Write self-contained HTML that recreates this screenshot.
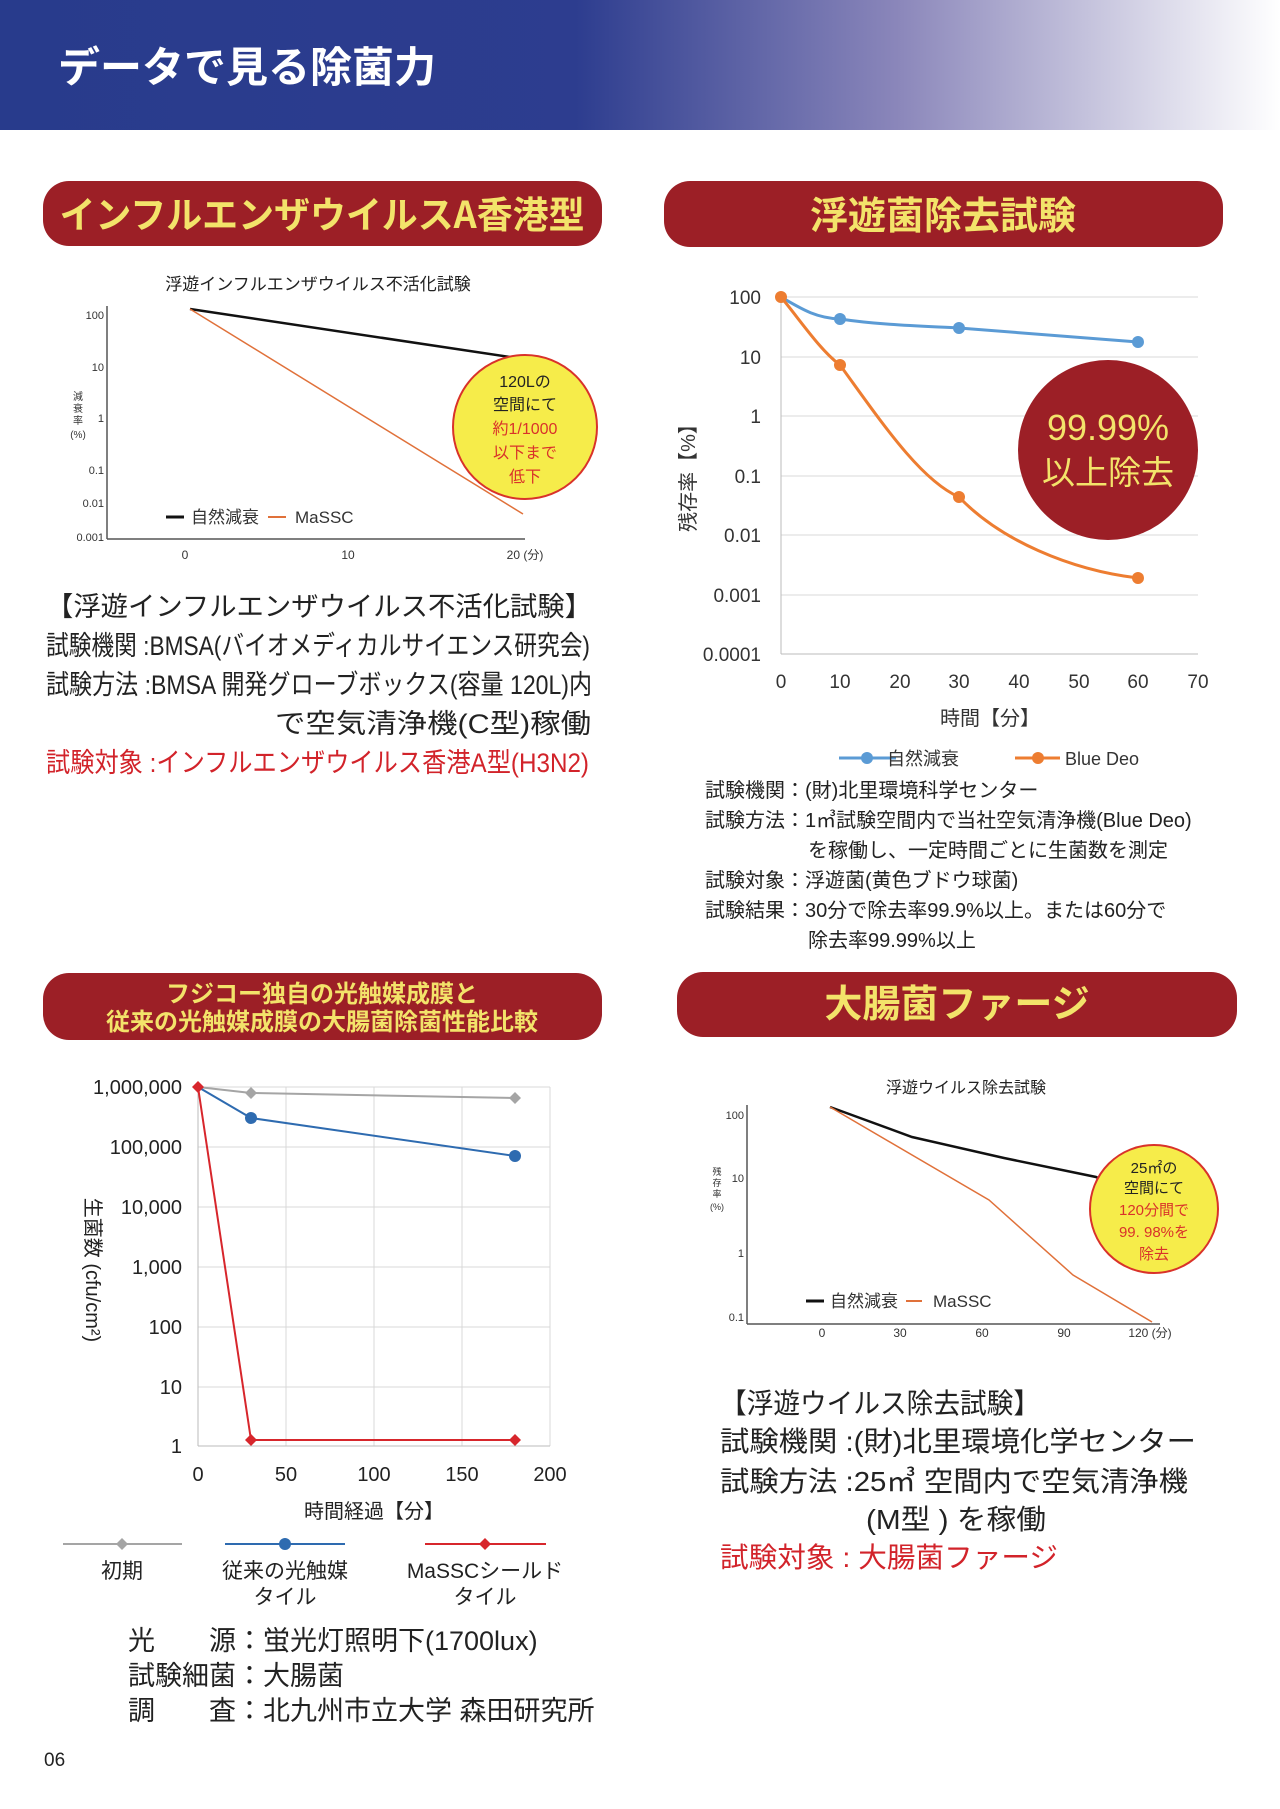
<!DOCTYPE html>
<html><head><meta charset="utf-8"><style>
html,body{margin:0;padding:0;background:#fff;}
svg{display:block;font-family:"Liberation Sans","Noto Sans CJK JP",sans-serif;}
</style></head><body>
<svg width="1280" height="1809" viewBox="0 0 1280 1809" xmlns="http://www.w3.org/2000/svg">
<defs>
<linearGradient id="hg" x1="0" x2="1" y1="0" y2="0">
<stop offset="0" stop-color="#283b8c"/><stop offset="0.45" stop-color="#2d3d8f"/><stop offset="0.7" stop-color="#8a86ba"/><stop offset="1" stop-color="#ffffff"/>
</linearGradient>
</defs>
<rect x="0" y="0" width="1280" height="130" fill="url(#hg)"/>
<text x="58" y="82" font-size="42" font-weight="bold" fill="#fff" font-family="Noto Sans CJK JP,sans-serif">データで見る除菌力</text>

<!-- pills -->
<rect x="43" y="181" width="559" height="65" rx="26" fill="#9c1f26"/>
<text x="322" y="228" font-size="37" fill="#f3e36a" text-anchor="middle" font-weight="bold" font-family="Noto Sans CJK JP,sans-serif" textLength="525" lengthAdjust="spacingAndGlyphs">インフルエンザウイルスA香港型</text>
<rect x="664" y="181" width="559" height="66" rx="26" fill="#9c1f26"/>
<text x="943" y="229" font-size="38" fill="#f3e36a" text-anchor="middle" font-family="Noto Sans CJK JP,sans-serif" font-weight="bold">浮遊菌除去試験</text>
<rect x="43" y="973" width="559" height="67" rx="26" fill="#9c1f26"/>
<text x="322" y="1002" font-size="24" fill="#f3e36a" text-anchor="middle" font-weight="bold" font-family="Noto Sans CJK JP,sans-serif">フジコー独自の光触媒成膜と</text>
<text x="322" y="1030" font-size="24" fill="#f3e36a" text-anchor="middle" font-weight="bold" font-family="Noto Sans CJK JP,sans-serif">従来の光触媒成膜の大腸菌除菌性能比較</text>
<rect x="677" y="972" width="560" height="65" rx="26" fill="#9c1f26"/>
<text x="957" y="1017" font-size="38" fill="#f3e36a" text-anchor="middle" font-weight="bold" font-family="Noto Sans CJK JP,sans-serif">大腸菌ファージ</text>

<!-- chart 1 -->
<text x="318" y="290" font-size="17" fill="#222" text-anchor="middle">浮遊インフルエンザウイルス不活化試験</text>
<line x1="107" y1="306" x2="107" y2="539" stroke="#555" stroke-width="1.5"/>
<line x1="107" y1="539" x2="525" y2="539" stroke="#555" stroke-width="1.5"/>
<g font-size="11" fill="#333" text-anchor="end">
<text x="104" y="319">100</text><text x="104" y="371">10</text><text x="104" y="422">1</text><text x="104" y="474">0.1</text><text x="104" y="507">0.01</text><text x="104" y="541">0.001</text>
</g>
<text x="78" y="400" font-size="10" fill="#333" text-anchor="middle">減</text>
<text x="78" y="412" font-size="10" fill="#333" text-anchor="middle">衰</text>
<text x="78" y="424" font-size="10" fill="#333" text-anchor="middle">率</text>
<text x="78" y="438" font-size="10" fill="#333" text-anchor="middle">(%)</text>
<g font-size="12" fill="#333" text-anchor="middle">
<text x="185" y="559">0</text><text x="348" y="559">10</text><text x="525" y="559">20 (分)</text>
</g>
<line x1="190" y1="309" x2="523" y2="359" stroke="#111" stroke-width="2.5"/>
<line x1="190" y1="309" x2="523" y2="514" stroke="#e0713a" stroke-width="1.5"/>
<circle cx="525" cy="427" r="72" fill="#f6ec4a" stroke="#d9322a" stroke-width="2"/>
<g font-size="16" text-anchor="middle">
<text x="525" y="387" fill="#222">120Lの</text><text x="525" y="410" fill="#222">空間にて</text>
<text x="525" y="434" fill="#d9322a">約1/1000</text><text x="525" y="458" fill="#d9322a">以下まで</text><text x="525" y="482" fill="#d9322a">低下</text>
</g>
<line x1="166" y1="517" x2="184" y2="517" stroke="#111" stroke-width="3"/>
<text x="191" y="523" font-size="17" fill="#333">自然減衰</text>
<line x1="268" y1="517" x2="286" y2="517" stroke="#e0713a" stroke-width="2"/>
<text x="295" y="523" font-size="17" fill="#333">MaSSC</text>

<g font-size="27" fill="#222">
<text x="46" y="616" textLength="546" lengthAdjust="spacingAndGlyphs">【浮遊インフルエンザウイルス不活化試験】</text>
<text x="46" y="655" textLength="544" lengthAdjust="spacingAndGlyphs">試験機関 :BMSA(バイオメディカルサイエンス研究会)</text>
<text x="46" y="694" textLength="546" lengthAdjust="spacingAndGlyphs">試験方法 :BMSA 開発グローブボックス(容量 120L)内</text>
<text x="275" y="733" textLength="316" lengthAdjust="spacingAndGlyphs">で空気清浄機(C型)稼働</text>
<text x="46" y="772" fill="#d2232a" textLength="543" lengthAdjust="spacingAndGlyphs">試験対象 :インフルエンザウイルス香港A型(H3N2)</text>
</g>

<!-- chart 2 -->
<g stroke="#d9d9d9" stroke-width="1">
<line x1="781" y1="297" x2="1198" y2="297"/><line x1="781" y1="357" x2="1198" y2="357"/><line x1="781" y1="416" x2="1198" y2="416"/><line x1="781" y1="476" x2="1198" y2="476"/><line x1="781" y1="535" x2="1198" y2="535"/><line x1="781" y1="595" x2="1198" y2="595"/>
</g>
<line x1="781" y1="654" x2="1198" y2="654" stroke="#bbb"/>
<line x1="781" y1="297" x2="781" y2="654" stroke="#bbb"/>
<g font-size="19" fill="#333" text-anchor="end">
<text x="761" y="304">100</text><text x="761" y="364">10</text><text x="761" y="423">1</text><text x="761" y="483">0.1</text><text x="761" y="542">0.01</text><text x="761" y="602">0.001</text><text x="761" y="661">0.0001</text>
</g>
<g font-size="19" fill="#333" text-anchor="middle">
<text x="781" y="688">0</text><text x="840" y="688">10</text><text x="900" y="688">20</text><text x="959" y="688">30</text><text x="1019" y="688">40</text><text x="1079" y="688">50</text><text x="1138" y="688">60</text><text x="1198" y="688">70</text>
</g>
<text x="990" y="725" font-size="20" fill="#333" text-anchor="middle">時間【分】</text>
<text transform="translate(695,473) rotate(-90)" font-size="20" fill="#333" text-anchor="middle">残存率【%】</text>
<path d="M781,297 C800,308 815,318 840,319 C880,325 920,326 959,328 C1030,333 1090,338 1138,342" fill="none" stroke="#5b9bd5" stroke-width="3"/>
<path d="M781,297 C800,320 820,350 840,365 C880,420 920,480 959,497 C1000,540 1070,570 1138,578" fill="none" stroke="#ed7d31" stroke-width="3"/>
<g fill="#5b9bd5"><circle cx="840" cy="319" r="6"/><circle cx="959" cy="328" r="6"/><circle cx="1138" cy="342" r="6"/></g>
<g fill="#ed7d31"><circle cx="781" cy="297" r="6"/><circle cx="840" cy="365" r="6"/><circle cx="959" cy="497" r="6"/><circle cx="1138" cy="578" r="6"/></g>
<circle cx="1108" cy="450" r="90" fill="#9c1f26"/>
<text x="1108" y="440" font-size="36" fill="#f3e36a" text-anchor="middle">99.99%</text>
<text x="1108" y="484" font-size="33" fill="#f3e36a" text-anchor="middle">以上除去</text>
<line x1="839" y1="758" x2="896" y2="758" stroke="#5b9bd5" stroke-width="3"/><circle cx="867" cy="758" r="6" fill="#5b9bd5"/>
<text x="887" y="765" font-size="18" fill="#333">自然減衰</text>
<line x1="1015" y1="758" x2="1060" y2="758" stroke="#ed7d31" stroke-width="3"/><circle cx="1038" cy="758" r="6" fill="#ed7d31"/>
<text x="1065" y="765" font-size="18" fill="#333">Blue Deo</text>
<g font-size="20" fill="#222">
<text x="705" y="797">試験機関：(財)北里環境科学センター</text>
<text x="705" y="827">試験方法：1㎥試験空間内で当社空気清浄機(Blue Deo)</text>
<text x="808" y="857">を稼働し、一定時間ごとに生菌数を測定</text>
<text x="705" y="887">試験対象：浮遊菌(黄色ブドウ球菌)</text>
<text x="705" y="917">試験結果：30分で除去率99.9%以上。または60分で</text>
<text x="808" y="947">除去率99.99%以上</text>
</g>

<!-- chart 3 -->
<g stroke="#d9d9d9" stroke-width="1">
<line x1="198" y1="1087" x2="550" y2="1087"/><line x1="198" y1="1147" x2="550" y2="1147"/><line x1="198" y1="1207" x2="550" y2="1207"/><line x1="198" y1="1267" x2="550" y2="1267"/><line x1="198" y1="1327" x2="550" y2="1327"/><line x1="198" y1="1387" x2="550" y2="1387"/>
<line x1="286" y1="1087" x2="286" y2="1446"/><line x1="374" y1="1087" x2="374" y2="1446"/><line x1="462" y1="1087" x2="462" y2="1446"/><line x1="550" y1="1087" x2="550" y2="1446"/>
</g>
<line x1="198" y1="1446" x2="550" y2="1446" stroke="#bbb"/>
<line x1="198" y1="1087" x2="198" y2="1446" stroke="#bbb"/>
<g font-size="20" fill="#222" text-anchor="end">
<text x="182" y="1094">1,000,000</text><text x="182" y="1154">100,000</text><text x="182" y="1214">10,000</text><text x="182" y="1274">1,000</text><text x="182" y="1334">100</text><text x="182" y="1394">10</text><text x="182" y="1453">1</text>
</g>
<g font-size="20" fill="#222" text-anchor="middle">
<text x="198" y="1481">0</text><text x="286" y="1481">50</text><text x="374" y="1481">100</text><text x="462" y="1481">150</text><text x="550" y="1481">200</text>
</g>
<text x="374" y="1518" font-size="20" fill="#222" text-anchor="middle">時間経過【分】</text>
<text transform="translate(86,1270) rotate(90)" font-size="20" fill="#222" text-anchor="middle">生菌数 (cfu/cm²)</text>
<polyline points="198,1087 251,1093 515,1098" fill="none" stroke="#a5a5a5" stroke-width="2"/>
<polyline points="198,1087 251,1118 515,1156" fill="none" stroke="#2e6bb0" stroke-width="2"/>
<polyline points="198,1087 251,1440 515,1440" fill="none" stroke="#d7262c" stroke-width="2"/>
<g fill="#a5a5a5"><path d="M251,1087 l6,6 -6,6 -6,-6z"/><path d="M515,1092 l6,6 -6,6 -6,-6z"/></g>
<g fill="#2e6bb0"><circle cx="251" cy="1118" r="6"/><circle cx="515" cy="1156" r="6"/></g>
<g fill="#d7262c"><path d="M198,1081 l6,6 -6,6 -6,-6z"/><path d="M251,1434 l6,6 -6,6 -6,-6z"/><path d="M515,1434 l6,6 -6,6 -6,-6z"/></g>
<line x1="63" y1="1544" x2="182" y2="1544" stroke="#a5a5a5" stroke-width="2"/><path d="M122,1538 l6,6 -6,6 -6,-6z" fill="#a5a5a5"/>
<line x1="225" y1="1544" x2="345" y2="1544" stroke="#2e6bb0" stroke-width="2"/><circle cx="285" cy="1544" r="6" fill="#2e6bb0"/>
<line x1="425" y1="1544" x2="546" y2="1544" stroke="#d7262c" stroke-width="2"/><path d="M485,1538 l6,6 -6,6 -6,-6z" fill="#d7262c"/>
<g font-size="21" fill="#222" text-anchor="middle">
<text x="122" y="1578">初期</text>
<text x="285" y="1578">従来の光触媒</text><text x="285" y="1604">タイル</text>
<text x="485" y="1578">MaSSCシールド</text><text x="485" y="1604">タイル</text>
</g>
<g font-size="27" fill="#222">
<text x="128" y="1650">光　　源：蛍光灯照明下(1700lux)</text>
<text x="128" y="1685">試験細菌：大腸菌</text>
<text x="128" y="1720">調　　査：北九州市立大学 森田研究所</text>
</g>
<text x="44" y="1766" font-size="19" fill="#222">06</text>

<!-- chart 4 -->
<text x="966" y="1093" font-size="16" fill="#222" text-anchor="middle">浮遊ウイルス除去試験</text>
<line x1="747" y1="1105" x2="747" y2="1324" stroke="#555" stroke-width="1.5"/>
<line x1="747" y1="1324" x2="1160" y2="1324" stroke="#555" stroke-width="1.5"/>
<g font-size="11" fill="#333" text-anchor="end">
<text x="744" y="1119">100</text><text x="744" y="1182">10</text><text x="744" y="1257">1</text><text x="744" y="1321">0.1</text>
</g>
<text x="717" y="1175" font-size="9" fill="#333" text-anchor="middle">残</text>
<text x="717" y="1186" font-size="9" fill="#333" text-anchor="middle">存</text>
<text x="717" y="1197" font-size="9" fill="#333" text-anchor="middle">率</text>
<text x="717" y="1210" font-size="9" fill="#333" text-anchor="middle">(%)</text>
<g font-size="12" fill="#333" text-anchor="middle">
<text x="822" y="1337">0</text><text x="900" y="1337">30</text><text x="982" y="1337">60</text><text x="1064" y="1337">90</text><text x="1150" y="1337">120 (分)</text>
</g>
<polyline points="830,1107 912,1137 1004,1158 1096,1177 1124,1191" fill="none" stroke="#111" stroke-width="2.5"/>
<polyline points="830,1107 989,1200 1073,1275 1152,1322" fill="none" stroke="#e0713a" stroke-width="1.5"/>
<circle cx="1154" cy="1209" r="64" fill="#f6ec4a" stroke="#d9322a" stroke-width="2"/>
<g font-size="15" text-anchor="middle">
<text x="1154" y="1173" fill="#222">25㎡の</text><text x="1154" y="1193" fill="#222">空間にて</text>
<text x="1154" y="1215" fill="#d9322a">120分間で</text><text x="1154" y="1237" fill="#d9322a">99. 98%を</text><text x="1154" y="1259" fill="#d9322a">除去</text>
</g>
<line x1="806" y1="1301" x2="824" y2="1301" stroke="#111" stroke-width="3"/>
<text x="830" y="1307" font-size="17" fill="#333">自然減衰</text>
<line x1="906" y1="1301" x2="922" y2="1301" stroke="#e0713a" stroke-width="2"/>
<text x="933" y="1307" font-size="17" fill="#333">MaSSC</text>
<g font-size="28" fill="#222">
<text x="720" y="1413" textLength="320" lengthAdjust="spacingAndGlyphs">【浮遊ウイルス除去試験】</text>
<text x="720" y="1451" textLength="476" lengthAdjust="spacingAndGlyphs">試験機関 :(財)北里環境化学センター</text>
<text x="720" y="1491" textLength="468" lengthAdjust="spacingAndGlyphs">試験方法 :25㎥ 空間内で空気清浄機</text>
<text x="866" y="1529" textLength="180" lengthAdjust="spacingAndGlyphs">(M型 ) を稼働</text>
<text x="720" y="1567" fill="#d2232a" textLength="338" lengthAdjust="spacingAndGlyphs">試験対象 : 大腸菌ファージ</text>
</g>
</svg>
</body></html>
